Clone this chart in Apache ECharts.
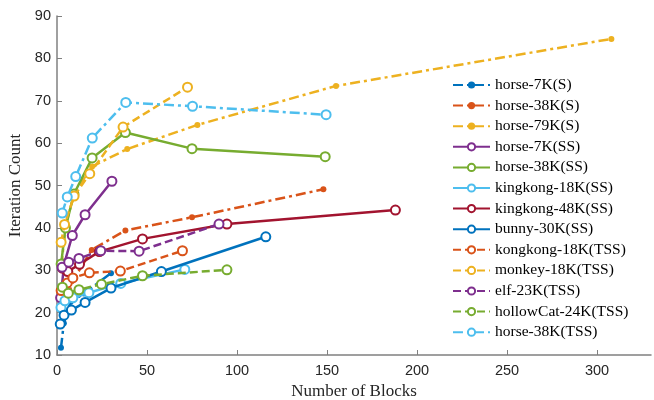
<!DOCTYPE html>
<html>
<head>
<meta charset="utf-8">
<script src="https://cdn.jsdelivr.net/npm/echarts@6/dist/echarts.min.js"></script>
<style>
  html, body { margin: 0; padding: 0; background: #fff; }
  #chart { width: 654px; height: 400px; }
</style>
</head>
<body>
<div id="chart"></div>
<script>
// names, in legend order
const names = [
  'horse-7K(S)', 'horse-38K(S)', 'horse-79K(S)',
  'horse-7K(SS)', 'horse-38K(SS)', 'kingkong-18K(SS)', 'kingkong-48K(SS)', 'bunny-30K(SS)',
  'kongkong-18K(TSS)', 'monkey-18K(TSS)', 'elf-23K(TSS)', 'hollowCat-24K(TSS)', 'horse-38K(TSS)'
]

// number of blocks / iteration count for each run
const horse7kS_x = [2.2, 3.8, 7.5, 15, 30]
const horse7kS_y = [11.7, 17.5, 22.5, 24.5, 29.3]
const horse38kS_x = [2.4, 4.8, 9.5, 19.3, 38, 75, 148]
const horse38kS_y = [17.3, 22.5, 28, 34.8, 39.4, 42.5, 49.1]
const horse79kS_x = [2.4, 5, 10, 19.5, 39, 78, 155, 308]
const horse79kS_y = [31, 41, 48.5, 54.5, 58.6, 64.3, 73.5, 84.6]
const horse7kSS_x = [2, 4, 8.5, 15.6, 30.5]
const horse7kSS_y = [23.5, 31.5, 38.2, 43.1, 51]
const horse38kSS_x = [2.3, 4.7, 9.4, 19.5, 38, 75, 149]
const horse38kSS_y = [31.5, 40, 48, 56.5, 62.5, 58.7, 56.8]
const kingkong18kSS_x = [2.2, 4.4, 8.8, 17.7, 35.4, 71]
const kingkong18kSS_y = [21.2, 22.8, 23.5, 24.7, 26.9, 30.2]
const kingkong48kSS_x = [3, 6, 12.5, 23.5, 47.5, 94.4, 188]
const kingkong48kSS_y = [30.5, 29.7, 31.4, 34.4, 37.4, 40.9, 44.2]
const bunny30kSS_x = [1.8, 3.9, 8, 15.6, 30, 58, 116]
const bunny30kSS_y = [17.3, 19.4, 20.6, 22.4, 25.8, 29.7, 37.9]
const kongkong18kTSS_x = [2.3, 5.7, 8.8, 18, 35.2, 69.7]
const kongkong18kTSS_y = [25.2, 27, 28.2, 29.4, 29.8, 34.6]
const monkey18kTSS_x = [2.3, 4.2, 9.5, 18.2, 36.7, 72.5]
const monkey18kTSS_y = [36.6, 40.8, 47.5, 52.8, 63.8, 73.2]
const elf23kTSS_x = [2.8, 6.5, 12.2, 24.3, 45.6, 90]
const elf23kTSS_y = [30.7, 31.9, 32.8, 34.6, 34.5, 40.9]
const hollowCat24kTSS_x = [3, 6.3, 12.2, 24.7, 47.5, 94.4]
const hollowCat24kTSS_y = [26, 24.6, 25.4, 26.7, 28.7, 30.1]
const horse38kTSS_x = [2.9, 5.7, 10.4, 19.6, 38.2, 75.3, 149.5]
const horse38kTSS_y = [43.5, 47.3, 52.1, 61.2, 69.6, 68.7, 66.7]

const xTicks = [0, 50, 100, 150, 200, 250, 300]

const runsX = [horse7kS_x, horse38kS_x, horse79kS_x, horse7kSS_x, horse38kSS_x, kingkong18kSS_x,
  kingkong48kSS_x, bunny30kSS_x, kongkong18kTSS_x, monkey18kTSS_x, elf23kTSS_x, hollowCat24kTSS_x, horse38kTSS_x]
const runsY = [horse7kS_y, horse38kS_y, horse79kS_y, horse7kSS_y, horse38kSS_y, kingkong18kSS_y,
  kingkong48kSS_y, bunny30kSS_y, kongkong18kTSS_y, monkey18kTSS_y, elf23kTSS_y, hollowCat24kTSS_y, horse38kTSS_y]

const colors = ['#0072BD', '#D95319', '#EDB120', '#7E2F8E', '#77AC30', '#4DBEEE', '#A2142F',
  '#0072BD', '#D95319', '#EDB120', '#7E2F8E', '#77AC30', '#4DBEEE']

const dashDot = [10, 4, 3, 4]
const dashed = [8, 4]

const chart = echarts.init(document.getElementById('chart'))

const series = names.map((name, i) => {
  const isS = i < 3
  const isTSS = i >= 8
  let lineType = 'solid'
  if (isS || i === 12) lineType = dashDot
  else if (isTSS) lineType = dashed
  return {
    name,
    type: 'line',
    data: runsX[i].map((x, j) => [x, runsY[i][j]]),
    symbol: isS ? 'circle' : 'emptyCircle',
    symbolSize: isS ? 6 : 9,
    lineStyle: { color: colors[i], width: 2.5, type: lineType },
    itemStyle: { color: colors[i], borderColor: colors[i], borderWidth: isS ? 0 : 2.2 },
    z: 2 + i
  }
})

chart.setOption({
  animation: false,
  color: colors,
  grid: { left: 57, right: 3, top: 16, bottom: 45, outerBoundsMode: 'none' },
  legend: {
    orient: 'vertical',
    left: 447,
    top: 72,
    itemWidth: 37,
    itemHeight: 9,
    itemGap: 4.6,
    textStyle: { fontFamily: 'Liberation Serif', fontSize: 15.5, color: '#000', lineHeight: 16 },
    data: names
  },
  xAxis: {
    type: 'value',
    min: 0,
    max: 330,
    interval: 50,
    name: 'Number of Blocks',
    nameLocation: 'middle',
    nameGap: 27,
    nameTextStyle: { fontFamily: 'Liberation Serif', fontSize: 17, color: '#262626' },
    splitLine: { show: false },
    axisLine: { lineStyle: { color: '#808080', width: 1.5 } },
    axisTick: { inside: true, length: 5, customValues: xTicks, lineStyle: { color: '#808080' } },
    axisLabel: { customValues: xTicks, fontFamily: 'Liberation Sans', fontSize: 14.5, color: '#262626', margin: 8 }
  },
  yAxis: {
    type: 'value',
    min: 10,
    max: 90,
    interval: 10,
    name: 'Iteration Count',
    nameLocation: 'middle',
    nameGap: 25,
    nameTextStyle: { fontFamily: 'Liberation Serif', fontSize: 17, color: '#262626' },
    splitLine: { show: false },
    axisLine: { show: true, lineStyle: { color: '#808080', width: 1.5 } },
    axisTick: { show: true, inside: true, length: 5, lineStyle: { color: '#808080' } },
    axisLabel: { fontFamily: 'Liberation Sans', fontSize: 14.5, color: '#262626', margin: 6 }
  },
  series
})
</script>
</body>
</html>
